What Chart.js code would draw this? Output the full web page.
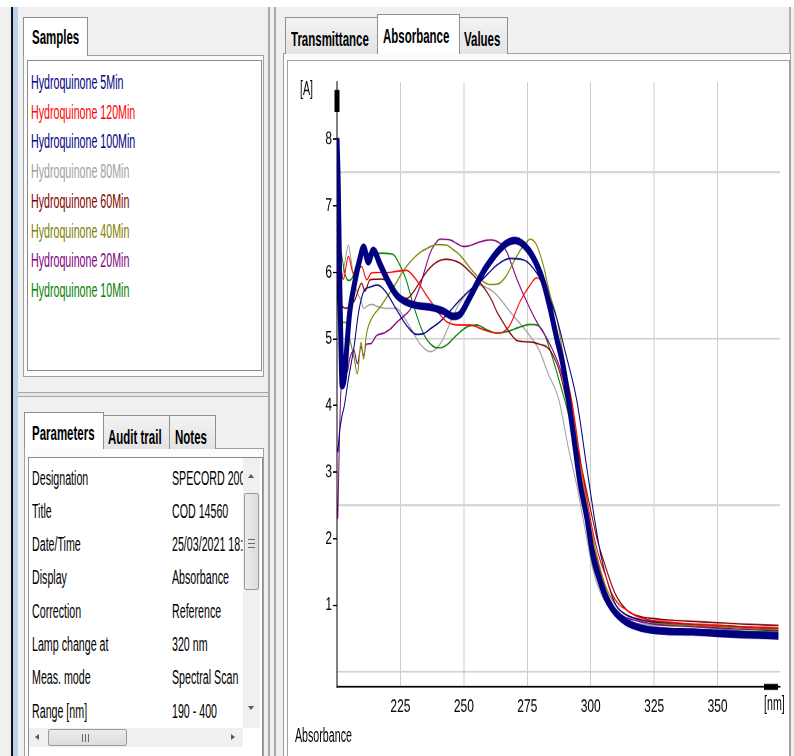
<!DOCTYPE html>
<html><head><meta charset="utf-8">
<script src="https://cdn.jsdelivr.net/npm/chart.js@4.4.1/dist/chart.umd.min.js"></script>
<style>
html,body{margin:0;padding:0;}
body{width:794px;height:756px;overflow:hidden;background:#f0f0f0;position:relative;
 font-family:"Liberation Sans",Arial,sans-serif;}
.abs{position:absolute;box-sizing:border-box;}
.t{position:absolute;white-space:nowrap;font-size:13px;line-height:13px;height:13px;
 transform:scale(0.82,1.5);transform-origin:0 50%;color:#000;}
.b{font-weight:bold;font-size:14px;line-height:14px;height:14px;}
.tabI{background:linear-gradient(#f3f3f3,#e3e3e3);border:1px solid #8e8f8f;border-bottom:none;}
.tabA{background:#fff;border:1px solid #8e8f8f;border-bottom:none;}
#chartWrap{position:absolute;left:288px;top:61px;width:500px;height:463.333px;transform:scaleY(1.5);transform-origin:0 0;}
</style></head><body>
<div id="ui"></div>
<div id="chartWrap"><canvas id="c"></canvas></div>
<div id="over"></div>
<script>
// ---------- data ----------
const seriesNames = ["Hydroquinone 5Min","Hydroquinone 120Min","Hydroquinone 100Min","Hydroquinone 80Min",
  "Hydroquinone 60Min","Hydroquinone 40Min","Hydroquinone 20Min","Hydroquinone 10Min"];

const wl5  = [200,200.5,201,201.5,202,203,204,205,207,209,210.5,212.3,214.3,217,220,223.5,227.5,232,236.7,241.8,245.8,248.5,252,255,258,260.3,263.5,266.9,270.2,273.4,277.4,281.3,284,286.6,289.2,293.1,295.8,298.4,301,303.7,306,308.5,311,314,318,322,330,340,350,360,374];
const abs5 = [8.02,7.3,6.0,5.0,4.3,4.45,4.95,5.4,5.85,6.2,6.38,6.16,6.33,6.12,5.88,5.66,5.55,5.5,5.48,5.42,5.34,5.37,5.6,5.82,6.03,6.16,6.32,6.44,6.48,6.42,6.22,5.86,5.46,5.01,4.58,3.58,2.83,2.33,1.72,1.36,1.12,0.95,0.84,0.75,0.68,0.64,0.61,0.6,0.58,0.56,0.54];

const wl120  = [200.5,201.5,202.5,204.5,206.4,208,209.7,211.7,213.5,215,220,224,227.5,230,232.7,235,238,240.5,243.2,248.5,252.4,257.7,261,264.2,266,268.2,272.1,276.1,278.7,281.3,285.3,288.5,292.5,296.4,301,303.7,306.3,308.3,311,314.2,318,322,330,340,350,360,374];
const abs120 = [6.2,6.05,5.9,6.24,5.99,6.05,6.09,5.89,5.99,6.0,6.0,6.02,6.03,5.95,5.81,5.67,5.51,5.37,5.26,5.21,5.21,5.14,5.1,5.09,5.12,5.21,5.56,5.81,5.92,5.81,5.31,4.75,4.08,3.08,2.08,1.68,1.4,1.18,1.02,0.93,0.84,0.79,0.75,0.72,0.7,0.68,0.66];

const wl100  = [200.3,201,202,202.8,204.5,206.7,208.5,210.6,213,216,219,223.5,227.5,231.4,234,237,240.6,244.5,248.5,252.5,256.4,259.5,263,268.2,273.4,277.4,282.7,286.6,290,294.5,298.4,301.5,304,307,310,314,320,330,340,350,360,374];
const abs100 = [3.3,3.6,3.85,3.98,4.4,4.88,5.4,5.72,5.78,5.81,5.72,5.44,5.2,5.07,5.08,5.16,5.26,5.42,5.59,5.74,5.86,5.98,6.11,6.21,6.19,6.06,5.71,5.31,4.8,4.08,3.08,2.3,1.75,1.3,1.0,0.86,0.78,0.74,0.72,0.7,0.68,0.66];

const wl80  = [200.5,202,203.3,204.5,205.5,206.7,208,209.3,210.6,212,213.7,216.5,219.6,223.5,226,228.8,232.7,236.7,239,241.9,245.9,248.5,251.1,254,256.4,259,261.6,265,268.2,271.5,274.8,277.5,280,283,287.5,291,294.6,297.5,300.5,303.5,307,310,315,320,330,340,350,360,374];
const abs80 = [5.6,5.9,6.2,6.41,6.2,5.89,5.7,5.59,5.46,5.5,5.52,5.48,5.46,5.46,5.35,5.18,4.93,4.81,4.85,5.01,5.36,5.55,5.68,5.78,5.81,5.77,5.71,5.57,5.41,5.26,5.11,4.97,4.81,4.5,4.08,3.4,2.78,2.2,1.6,1.22,0.98,0.86,0.76,0.72,0.7,0.69,0.68,0.67,0.66];

const wl60  = [200.5,201.8,203.5,205,207.1,208.5,209.7,211,213,217.6,220.9,223.5,227.5,230,232.7,235.5,238,240.5,243.2,246,248.5,251,253.7,256.5,259,261,263,265,266.9,268.8,270.8,274,277.4,280,282.7,284.5,287.9,291.8,295.8,299.7,302.5,305,309.6,314.2,318,325,335,350,360,374];
const abs60 = [5.56,5.5,5.46,5.5,5.59,5.75,5.84,5.72,5.89,5.9,5.83,5.66,5.61,5.7,5.86,6.02,6.12,6.18,6.2,6.18,6.14,6.06,5.96,5.84,5.71,5.58,5.41,5.28,5.16,5.06,4.98,4.96,4.95,4.92,4.88,4.8,4.49,3.83,3.18,2.48,2.0,1.68,1.18,0.93,0.85,0.8,0.77,0.74,0.72,0.7];

const wl40  = [200.5,202,203.5,205,206.7,208,209.5,210.5,211.5,213.3,217.2,220,222.5,224.8,227,230.1,232.7,235.4,239.3,243.2,245.5,248.5,251,253.7,257.7,260.3,263.6,266.9,268.8,270.8,273,274.8,276.1,277.4,278.7,281.3,284,286.6,289,292.2,296,300.5,305.5,309,313,318,325,340,350,360,374];
const abs40 = [5.28,5.25,5.25,5.0,4.73,4.48,4.95,4.7,5.05,5.28,5.49,5.65,5.79,5.94,6.07,6.21,6.3,6.36,6.42,6.41,6.35,6.26,6.14,6.01,5.86,5.82,5.83,5.96,6.1,6.24,6.38,6.46,6.5,6.48,6.41,6.11,5.66,5.32,4.8,4.08,3.08,2.08,1.33,1.05,0.88,0.8,0.74,0.7,0.68,0.66,0.64];

const wl20  = [200.3,200.8,201.3,202,202.8,204,205,206.7,208,209.5,210.5,211.5,213.3,215.5,218.5,221,223.8,226.5,228.8,230.8,232.7,234.7,236.7,238.5,240.6,244.5,247,249.8,252,256.4,260.3,264.2,266.9,268.8,270.8,274.8,278.7,282.7,285.3,288,291.5,295.5,300,305,308.5,312,318,325,340,350,360,374];
const abs20 = [2.3,3.2,4.0,4.48,4.63,4.5,4.7,4.83,4.63,4.88,4.75,4.92,4.93,5.05,5.09,5.15,5.26,5.35,5.44,5.6,5.79,6.05,6.29,6.42,6.5,6.49,6.44,6.39,6.4,6.46,6.49,6.44,6.31,6.12,5.91,5.56,5.26,5.01,4.81,4.55,4.0,3.08,2.06,1.33,1.02,0.86,0.77,0.72,0.68,0.66,0.64,0.62];

const wl10  = [200.5,201.5,203,204.5,206,207.5,209,211,215,218.5,220.9,222.5,224.8,226.4,227.5,230.1,232.7,234.5,236.7,239.3,241,243.2,247.2,251.1,255.1,259,263,266.9,272.1,276.1,278.7,281.3,284,287.9,291,293.5,296,300,302,304.5,307.5,310.5,314,318,325,340,350,360,374];
const abs10 = [6.6,6.35,6.0,5.88,5.92,6.1,6.22,6.28,6.29,6.29,6.28,6.26,6.11,5.98,5.86,5.51,5.21,5.05,4.93,4.87,4.87,4.91,5.06,5.18,5.21,5.14,5.09,5.11,5.18,5.22,5.21,5.11,4.83,4.33,3.9,3.45,2.85,2.05,1.75,1.4,1.08,0.9,0.78,0.71,0.67,0.64,0.63,0.61,0.6];

const xTickLabels = [225,250,275,300,325,350];
const yTickLabels = [1,2,3,4,5,6,7,8];
const yGridValues = [0,2.5,5,7.5];

const paramLabels = ["Designation","Title","Date/Time","Display","Correction","Lamp change at","Meas. mode","Range [nm]"];
const paramValues = ["SPECORD 200 PLUS","COD 14560","25/03/2021 18:42","Absorbance","Reference","320 nm","Spectral Scan","190 - 400"];

// ---------- styles ----------
const seriesColors = ["#000080","#ff0000","#000080","#a0a0a0","#800000","#808000","#800080","#008000"];
const seriesWidths = [5,1,1,1,1,1,1,1];
const FONT = '"Liberation Sans",Arial,sans-serif';

// ---------- window chrome ----------
const ui = document.getElementById('ui');
const over = document.getElementById('over');
function box(x,y,w,h,style,parent,cls){const d=document.createElement('div');d.className='abs'+(cls?' '+cls:'');
  Object.assign(d.style,{left:x+'px',top:y+'px',width:w+'px',height:h+'px'},style||{});(parent||ui).appendChild(d);return d;}
function text(str,x,cy,opt){opt=opt||{};const s=document.createElement('span');s.className='t'+(opt.bold?' b':'');
  s.textContent=str;const fs=opt.bold?14:13;s.style.left=x+'px';s.style.top=(cy-fs/2)+'px';
  if(opt.color)s.style.color=opt.color;(opt.parent||ui).appendChild(s);return s;}
function tri(x,y,dir,parent){const d=document.createElement('div');d.className='abs';d.style.left=x+'px';d.style.top=y+'px';
  d.style.width='0';d.style.height='0';const c='#5a5a5a',s='3.5px solid transparent';
  if(dir==='up'){d.style.borderLeft=s;d.style.borderRight=s;d.style.borderBottom='4px solid '+c;}
  if(dir==='down'){d.style.borderLeft=s;d.style.borderRight=s;d.style.borderTop='4px solid '+c;}
  if(dir==='left'){d.style.borderTop=s;d.style.borderBottom=s;d.style.borderRight='4px solid '+c;}
  if(dir==='right'){d.style.borderTop=s;d.style.borderBottom=s;d.style.borderLeft='4px solid '+c;}
  (parent||ui).appendChild(d);return d;}

box(0,0,794,7,{background:'#fff'});
box(11,7,2,749,{background:'#111'});
box(13,7,5,749,{background:'#bcd2ea'});
box(268,7,2,749,{background:'#a9a9a9'});
box(274,7,2,749,{background:'#a9a9a9'});
box(789,7,2,749,{background:'#b0b0b0'});

// Samples panel
box(23,55,241,322,{background:'#fbfbfb',border:'1px solid #a0a0a0'});
box(23,17,65,39,{},null,'tabA');
box(27,60,235,311,{background:'#fff',border:'1px solid #8b8b8b'});
text('Samples',32,36,{bold:true});
seriesNames.forEach((n,i)=>text(n,31,82.5+i*29.7,{color:seriesColors[i]}));

// splitter
box(18,392,250,5,{borderTop:'1px solid #a8a8a8',borderBottom:'1px solid #a8a8a8',background:'#e6e6e6'});

// Parameters panel
box(24,448,240,320,{background:'#fbfbfb',border:'1px solid #a0a0a0'});
box(103,415,67,34,{},null,'tabI');
box(169,415,47,34,{},null,'tabI');
box(24,412,80,37,{},null,'tabA');
text('Parameters',32,431.5,{bold:true});
text('Audit trail',108,435.5,{bold:true});
text('Notes',175,435.5,{bold:true});
box(28,457,235,310,{background:'#fff',border:'1px solid #8b8b8b'});
const clip = box(171,460,72,265,{overflow:'hidden'});
paramLabels.forEach((p,i)=>{
  const cy=478+i*33.3;
  text(p,32,cy);
  text(paramValues[i],1,cy-460,{parent:clip});
});
// vertical scrollbar
box(243,458,17,270,{background:'#f0f0f0'});
tri(248,474,'up');
box(244,493,15,97,{background:'linear-gradient(90deg,#ececec,#dcdcdc)',border:'1px solid #9a9a9a',borderRadius:'2px'});
box(248,539,7,1,{background:'#6a6a6a'});box(248,543,7,1,{background:'#6a6a6a'});box(248,547,7,1,{background:'#6a6a6a'});
tri(248,706,'down');
// horizontal scrollbar
box(29,728,214,19,{background:'#f0f0f0'});
tri(35,734,'left');
box(48,729,79,17,{background:'linear-gradient(#ececec,#dcdcdc)',border:'1px solid #9a9a9a',borderRadius:'2px'});
box(82,734,1,8,{background:'#6a6a6a'});box(85,734,1,8,{background:'#6a6a6a'});box(88,734,1,8,{background:'#6a6a6a'});
tri(231,734,'right');

// Right panel
box(283,53,508,710,{background:'#fbfbfb',border:'1px solid #a0a0a0'});
box(285,17,93,37,{},null,'tabI');
box(459,17,49,37,{},null,'tabI');
box(377,14,83,40,{},null,'tabA');
text('Transmittance',291,37.5,{bold:true});
text('Absorbance',383,34.5,{bold:true});
text('Values',464,37.5,{bold:true});
box(287,60,503,700,{background:'#fff',border:'1px solid #a0a0a0'});

// axis unit labels and footer
text('[A]',300,88,{parent:over});
text('[nm]',764,703,{parent:over});
text('Absorbance',295,735,{parent:over});

// ---------- chart ----------
const wls=[wl5,wl120,wl100,wl80,wl60,wl40,wl20,wl10];
const abss=[abs5,abs120,abs100,abs80,abs60,abs40,abs20,abs10];
const datasets = seriesNames.map((n,i)=>({
  label:n,
  data:wls[i].map((x,j)=>({x:x,y:abss[i][j]})),
  borderColor:seriesColors[i],
  borderWidth:seriesWidths[i],
  pointRadius:0,
  fill:false,
  cubicInterpolationMode:'monotone',
  order:i===0?0:(i===3?9:i)
}));

const axisArrows = {id:'axisArrows', afterDraw(chart){
  const {ctx, chartArea:a} = chart; ctx.save(); ctx.fillStyle='#000';
  ctx.fillRect(a.left-2.5, a.top+5.3, 5, 14.7);
  ctx.fillRect(a.right-16, a.bottom-2, 14, 4);
  ctx.restore(); }};

const Y_MIN=-0.225, Y_MAX=8.86;
new Chart(document.getElementById('c'), {
  type:'line',
  data:{datasets:datasets},
  plugins:[axisArrows],
  options:{
    responsive:true, maintainAspectRatio:false, animation:false, devicePixelRatio:2,
    layout:{padding:{top:14,right:8,left:0,bottom:0}},
    plugins:{legend:{display:false},tooltip:{enabled:false}},
    scales:{
      x:{type:'linear',position:'bottom',min:200,max:374.6,
        afterBuildTicks:s=>{s.ticks=xTickLabels.map(v=>({value:v}));},
        afterFit:s=>{s.height=46;},
        grid:{color:'#cdcdcd',lineWidth:1,drawTicks:false},
        border:{color:'#000',width:1.3},
        ticks:{autoSkip:false,maxRotation:0,padding:6,color:'#000',font:{family:FONT,size:12}}},
      y:{type:'linear',position:'left',min:Y_MIN,max:Y_MAX,
        afterBuildTicks:s=>{s.ticks=yTickLabels.map(v=>({value:v}));},
        afterFit:s=>{s.width=49;},
        grid:{drawOnChartArea:false,drawTicks:true,tickLength:4,tickColor:'#000',tickWidth:1},
        border:{color:'#000',width:1},
        ticks:{padding:1,color:'#000',font:{family:FONT,size:12}}},
      yg:{type:'linear',position:'left',min:Y_MIN,max:Y_MAX,
        afterBuildTicks:s=>{s.ticks=yGridValues.map(v=>({value:v}));},
        afterFit:s=>{s.width=0;},
        grid:{color:'#d2d2d2',lineWidth:1.3,drawTicks:false},
        border:{display:false},
        ticks:{display:false}}
    }
  }
});
</script>
</body></html>
